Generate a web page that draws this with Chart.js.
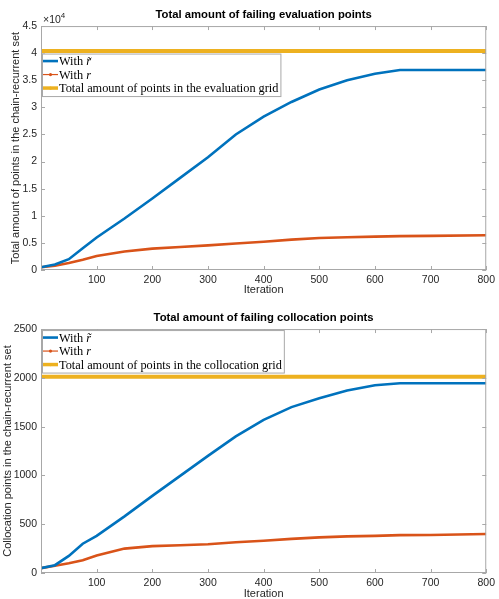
<!DOCTYPE html>
<html>
<head>
<meta charset="utf-8">
<script src="https://cdn.jsdelivr.net/npm/chart.js@4.4.1/dist/chart.umd.min.js"></script>
<style>
	body { margin: 0; background: #fff; }
	canvas { display: block; }
</style>
</head>
<body>
<canvas id="evalChart" width="499" height="300"></canvas>
<canvas id="collocChart" width="499" height="299"></canvas>
<script>
const iterations = [0, 25, 50, 75, 100, 150, 200, 250, 300, 350, 400, 450, 500, 550, 600, 645, 700, 800];
const gridEnds = [0, 800];

// top panel: failing evaluation points
const evalWithRTilde = [500, 1000, 2000, 4000, 6000, 9500, 13200, 17000, 20800, 25000, 28300, 31000, 33300, 35000, 36200, 36900, 36900, 36900];
const evalWithR = [500, 800, 1300, 1900, 2600, 3400, 3950, 4250, 4550, 4900, 5200, 5600, 5900, 6050, 6150, 6250, 6300, 6400];
const evalGridTotal = [40401, 40401];

// bottom panel: failing collocation points
const collocWithRTilde = [50, 80, 175, 300, 380, 580, 790, 995, 1200, 1400, 1570, 1700, 1790, 1870, 1925, 1945, 1945, 1945];
const collocWithR = [50, 75, 100, 130, 180, 250, 275, 285, 295, 315, 330, 350, 365, 375, 380, 388, 390, 400];
const collocGridTotal = [2010, 2010];

const xTicks = [0, 100, 200, 300, 400, 500, 600, 700, 800];
const evalYTicks = [0, 5000, 10000, 15000, 20000, 25000, 30000, 35000, 40000, 45000];
const collocYTicks = [0, 500, 1000, 1500, 2000, 2500];

const evalLegend = [['With ', 'r\u0303'], ['With ', 'r'], ['Total amount of points in the evaluation grid']];
const collocLegend = [['With ', 'r\u0303'], ['With ', 'r'], ['Total amount of points in the collocation grid']];

const BLUE = '#0072BD';
const ORANGE = '#D95319';
const YELLOW = '#EDB120';
const SANS = '"Liberation Sans", Arial, sans-serif';
const SERIF = '"Liberation Serif", "Times New Roman", serif';
const AXIS = '#262626';

const toPoints = (xs, ys) => ys.map((v, i) => ({x: xs[i], y: v}));

// MATLAB-like box, inward ticks, legend inside axes, exponent label
const matlabBox = {
	id: 'matlabBox',
	afterDatasetsDraw(chart, args, opts) {
		const {ctx, chartArea: a, scales: {x, y}} = chart;
		ctx.save();
		ctx.strokeStyle = '#a8a8a8';
		ctx.lineWidth = 1;
		ctx.strokeRect(a.left + 0.5, a.top + 0.5, a.width - 1, a.height - 1);
		ctx.beginPath();
		x.ticks.forEach(t => {
			const px = Math.round(x.getPixelForValue(t.value)) + 0.5;
			ctx.moveTo(px, a.bottom); ctx.lineTo(px, a.bottom - 4);
			ctx.moveTo(px, a.top); ctx.lineTo(px, a.top + 4);
		});
		y.ticks.forEach(t => {
			const py = Math.round(y.getPixelForValue(t.value)) + 0.5;
			ctx.moveTo(a.left, py); ctx.lineTo(a.left + 4, py);
			ctx.moveTo(a.right, py); ctx.lineTo(a.right - 4, py);
		});
		ctx.stroke();

		if (opts.exponent) {
			ctx.fillStyle = AXIS;
			ctx.font = `10.5px ${SANS}`;
			ctx.textBaseline = 'alphabetic';
			ctx.textAlign = 'left';
			ctx.fillText('\u00d710', a.left + 2, a.top - 3);
			const w = ctx.measureText('\u00d710').width;
			ctx.font = `8px ${SANS}`;
			ctx.fillText(opts.exponent, a.left + 2 + w, a.top - 8);
		}

		// legend
		const items = opts.labels;
		const ds = chart.data.datasets;
		const fontN = `12.3px ${SERIF}`;
		const fontI = `italic 12.3px ${SERIF}`;
		let maxW = 0;
		items.forEach(parts => {
			ctx.font = fontN;
			let w = ctx.measureText(parts[0]).width;
			if (parts[1]) { ctx.font = fontI; w += ctx.measureText(parts[1]).width; }
			maxW = Math.max(maxW, w);
		});
		const bx = a.left + 1, by = a.top + opts.legendTop, rowH = 13.5;
		const bw = 17 + maxW + 2, bh = rowH * items.length + 2;
		ctx.fillStyle = '#fff';
		ctx.fillRect(bx, by, bw, bh);
		ctx.strokeStyle = '#a8a8a8';
		ctx.strokeRect(bx + 0.5, by + 0.5, bw, bh);
		items.forEach((parts, i) => {
			const cy = by + 7.5 + i * rowH;
			const d = ds[i];
			ctx.strokeStyle = d.borderColor;
			ctx.lineWidth = d.legendWidth;
			ctx.beginPath();
			ctx.moveTo(bx + 1, cy); ctx.lineTo(bx + 16, cy);
			ctx.stroke();
			if (d.legendMarker) {
				ctx.fillStyle = d.borderColor;
				ctx.beginPath();
				ctx.arc(bx + 8.5, cy, 1.6, 0, Math.PI * 2);
				ctx.fill();
			}
			ctx.fillStyle = '#000';
			ctx.textBaseline = 'middle';
			ctx.textAlign = 'left';
			ctx.font = fontN;
			ctx.fillText(parts[0], bx + 17, cy + 1);
			if (parts[1]) {
				const w0 = ctx.measureText(parts[0]).width;
				ctx.font = fontI;
				ctx.fillText(parts[1], bx + 17 + w0, cy + 1);
			}
		});
		ctx.restore();
	}
};

const makeConfig = p => ({
	type: 'line',
	data: {
		datasets: [{
			label: p.legend[0].join(''),
			data: toPoints(iterations, p.blue),
			borderColor: BLUE,
			borderWidth: 2.6,
			legendWidth: 2.6,
			pointRadius: 0
		}, {
			label: p.legend[1].join(''),
			data: toPoints(iterations, p.orange),
			borderColor: ORANGE,
			borderWidth: 2.6,
			legendWidth: 1.2,
			legendMarker: true,
			pointRadius: 0
		}, {
			label: p.legend[2].join(''),
			data: toPoints(gridEnds, p.total),
			borderColor: YELLOW,
			borderWidth: 4,
			legendWidth: 3.5,
			legendMarker: true,
			pointRadius: 0
		}]
	},
	options: {
		responsive: false,
		animation: false,
		layout: {padding: {top: p.padTop, right: 10, bottom: p.padBottom, left: 0}},
		plugins: {
			legend: {display: false},
			tooltip: {enabled: false},
			title: {
				display: true,
				fullSize: false,
				text: p.title,
				color: '#000',
				font: {family: SANS, size: 11.3, weight: 'bold'},
				padding: {top: 8.5, bottom: 4}
			},
			matlabBox: {labels: p.legend, legendTop: p.legendTop, exponent: p.exponent}
		},
		scales: {
			x: {
				type: 'linear',
				min: 0,
				max: 800,
				afterBuildTicks: s => { s.ticks = xTicks.map(v => ({value: v})); },
				afterFit: s => { s.height = p.xHeight; },
				grid: {display: false, drawTicks: false},
				border: {display: false},
				ticks: {
					color: AXIS,
					padding: 4,
					maxRotation: 0,
					font: {family: SANS, size: 10.5},
					callback: v => v === 0 ? '' : v
				},
				title: {
					display: true,
					text: 'Iteration',
					color: AXIS,
					font: {family: SANS, size: 11},
					padding: {top: 0, bottom: p.xTitlePad}
				}
			},
			y: {
				type: 'linear',
				min: 0,
				max: p.yMax,
				afterBuildTicks: s => { s.ticks = p.yTicks.map(v => ({value: v})); },
				afterFit: s => { s.width = 41; },
				grid: {display: false, drawTicks: false},
				border: {display: false},
				ticks: {
					color: AXIS,
					padding: 4,
					font: {family: SANS, size: 10.5},
					callback: p.yFormat
				},
				title: {
					display: true,
					text: p.yTitle,
					color: AXIS,
					font: {family: SANS, size: 11},
					padding: {top: p.yTitlePad, bottom: 0}
				}
			}
		}
	},
	plugins: [matlabBox]
});

new Chart(document.getElementById('evalChart'), makeConfig({
	title: 'Total amount of failing evaluation points',
	yTitle: 'Total amount of points in the chain-recurrent set',
	blue: evalWithRTilde,
	orange: evalWithR,
	total: evalGridTotal,
	legend: evalLegend,
	yMax: 45000,
	yTicks: evalYTicks,
	yFormat: v => v / 10000,
	exponent: '4',
	legendTop: 27.5,
	padTop: 0,
	padBottom: 3,
	xHeight: 27,
	xTitlePad: 0,
	yTitlePad: 9.5
}));

new Chart(document.getElementById('collocChart'), makeConfig({
	title: 'Total amount of failing collocation points',
	yTitle: 'Collocation points in the chain-recurrent set',
	blue: collocWithRTilde,
	orange: collocWithR,
	total: collocGridTotal,
	legend: collocLegend,
	yMax: 2500,
	yTicks: collocYTicks,
	yFormat: v => v,
	exponent: null,
	legendTop: 1,
	padTop: 3,
	padBottom: 0,
	xHeight: 26,
	xTitlePad: -1.5,
	yTitlePad: 1.5
}));
</script>
</body>
</html>
